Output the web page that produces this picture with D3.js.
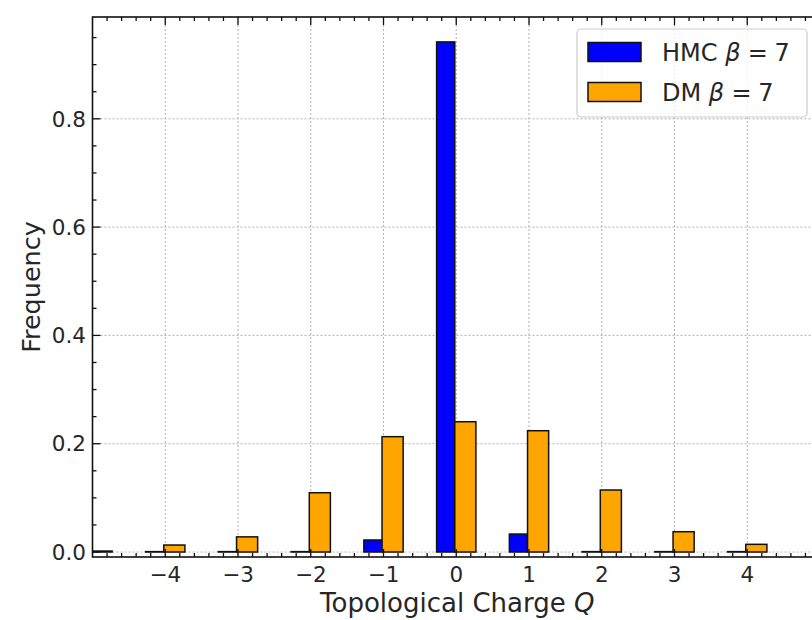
<!DOCTYPE html>
<html>
<head>
<meta charset="utf-8">
<script src="https://cdn.jsdelivr.net/npm/d3@7"></script>
<style>
  html, body { margin: 0; padding: 0; background: #fff; }
  svg { display: block; font-family: "DejaVu Sans", sans-serif; }
</style>
</head>
<body>
<svg id="chart" width="812" height="620"></svg>
<script>
// ---- data ----
const charges = [-5, -4, -3, -2, -1, 0, 1, 2, 3, 4];
const hmcValues = [0.0, 0.0007, 0.0007, 0.0007, 0.0222, 0.942, 0.0332, 0.0007, 0.0007, 0.0007];
const dmValues  = [0.0018, 0.0129, 0.028, 0.1095, 0.213, 0.2406, 0.224, 0.1145, 0.0375, 0.0142];
const xTickValues = [-4, -3, -2, -1, 0, 1, 2, 3, 4];
const yTickValues = [0.0, 0.2, 0.4, 0.6, 0.8];
const seriesNames = ["HMC", "DM"];
const betaValue = 7;

// ---- layout ----
const svg = d3.select("#chart");
const pLeft = 92.5, pRight = 820, pTop = 17, pBottom = 557;
const x = d3.scaleLinear().domain([-5, 5]).range([pLeft, pRight]);
const y = d3.scaleLinear().domain([-0.0092, 0.988]).range([pBottom, pTop]);
const textColor = "#262626";

svg.append("clipPath").attr("id", "plotclip")
  .append("rect").attr("x", pLeft).attr("y", pTop).attr("width", pRight - pLeft).attr("height", pBottom - pTop);

// grid
const grid = svg.append("g").attr("stroke", "#b0b0b0").attr("stroke-width", 1).attr("stroke-dasharray", "2,2");
xTickValues.forEach(v => grid.append("line").attr("x1", x(v)).attr("x2", x(v)).attr("y1", pTop).attr("y2", pBottom));
yTickValues.forEach(v => grid.append("line").attr("x1", pLeft).attr("x2", pRight).attr("y1", y(v)).attr("y2", y(v)));

// bars
const plot = svg.append("g").attr("clip-path", "url(#plotclip)");
const data = charges.map((q, i) => ({ q, hmc: hmcValues[i], dm: dmValues[i] }));
plot.selectAll("rect.hmc").data(data).enter().append("rect")
  .attr("class", "hmc")
  .attr("x", d => x(d.q - 0.27))
  .attr("width", d => x(d.q - 0.02) - x(d.q - 0.27))
  .attr("y", d => y(d.hmc))
  .attr("height", d => y(0) - y(d.hmc))
  .attr("fill", "#0000ff").attr("stroke", "#111").attr("stroke-width", 1.5);
plot.selectAll("rect.dm").data(data).enter().append("rect")
  .attr("class", "dm")
  .attr("x", d => x(d.q - 0.02))
  .attr("width", d => x(d.q + 0.27) - x(d.q - 0.02))
  .attr("y", d => y(d.dm))
  .attr("height", d => y(0) - y(d.dm))
  .attr("fill", "#ffa500").attr("stroke", "#111").attr("stroke-width", 1.5);

// ticks (inward, all sides)
const ticks = svg.append("g").attr("stroke", "#111").attr("stroke-width", 1.3);
const xMinor = d3.range(-50, 51, 2).map(v => v / 10).filter(v => Math.abs(v - Math.round(v)) > 1e-9);
const yMinor = d3.range(0, 20).map(v => v * 0.05).filter(v => Math.abs(v * 5 - Math.round(v * 5)) > 1e-9);
const majorLen = 8, minorLen = 4;
xTickValues.forEach(v => {
  ticks.append("line").attr("x1", x(v)).attr("x2", x(v)).attr("y1", pBottom).attr("y2", pBottom - majorLen);
  ticks.append("line").attr("x1", x(v)).attr("x2", x(v)).attr("y1", pTop).attr("y2", pTop + majorLen);
});
xMinor.forEach(v => {
  ticks.append("line").attr("x1", x(v)).attr("x2", x(v)).attr("y1", pBottom).attr("y2", pBottom - minorLen);
  ticks.append("line").attr("x1", x(v)).attr("x2", x(v)).attr("y1", pTop).attr("y2", pTop + minorLen);
});
yTickValues.forEach(v => {
  ticks.append("line").attr("x1", pLeft).attr("x2", pLeft + majorLen).attr("y1", y(v)).attr("y2", y(v));
  ticks.append("line").attr("x1", pRight).attr("x2", pRight - majorLen).attr("y1", y(v)).attr("y2", y(v));
});
yMinor.forEach(v => {
  ticks.append("line").attr("x1", pLeft).attr("x2", pLeft + minorLen).attr("y1", y(v)).attr("y2", y(v));
  ticks.append("line").attr("x1", pRight).attr("x2", pRight - minorLen).attr("y1", y(v)).attr("y2", y(v));
});

// spines
svg.append("rect").attr("x", pLeft).attr("y", pTop).attr("width", pRight - pLeft).attr("height", pBottom - pTop)
  .attr("fill", "none").attr("stroke", "#111").attr("stroke-width", 1.6);

// tick labels
const fmtX = d => (d < 0 ? "\u2212" + Math.abs(d) : String(d));
svg.append("g").selectAll("text").data(xTickValues).enter().append("text")
  .attr("x", d => x(d)).attr("y", 582)
  .attr("text-anchor", "middle").attr("font-size", 21.5).attr("fill", textColor)
  .text(fmtX);
svg.append("g").selectAll("text").data(yTickValues).enter().append("text")
  .attr("x", 86).attr("y", d => y(d)).attr("dy", "0.36em")
  .attr("text-anchor", "end").attr("font-size", 21.5).attr("fill", textColor)
  .text(d => d3.format(".1f")(d));

// axis labels
const xl = svg.append("text").attr("x", (pLeft + pRight) / 2 + 1).attr("y", 612)
  .attr("text-anchor", "middle").attr("font-size", 26).attr("fill", textColor);
xl.append("tspan").text("Topological Charge ");
xl.append("tspan").attr("font-style", "italic").text("Q");
svg.append("text")
  .attr("transform", `translate(40, ${(pTop + pBottom) / 2}) rotate(-90)`)
  .attr("text-anchor", "middle").attr("font-size", 25.5).attr("fill", textColor)
  .text("Frequency");

// legend
const lg = svg.append("g");
lg.append("rect").attr("x", 577).attr("y", 29).attr("width", 230).attr("height", 88).attr("rx", 4)
  .attr("fill", "#fff").attr("fill-opacity", 0.8).attr("stroke", "#cccccc").attr("stroke-width", 1.2);
const legendColors = ["#0000ff", "#ffa500"];
seriesNames.forEach((name, i) => {
  const cy = 52 + i * 40;
  lg.append("rect").attr("x", 588).attr("y", cy - 9.5).attr("width", 53).attr("height", 19)
    .attr("fill", legendColors[i]).attr("stroke", "#111").attr("stroke-width", 1.5);
  const t = lg.append("text").attr("x", 662).attr("y", cy).attr("dy", "0.36em")
    .attr("font-size", 24).attr("fill", textColor);
  t.append("tspan").text(name);
  t.append("tspan").attr("dx", "0.32em").attr("font-style", "italic").text("\u03b2");
  t.append("tspan").attr("dx", "0.3em").text("=");
  t.append("tspan").attr("dx", "0.28em").text(String(betaValue));
});
</script>
</body>
</html>
